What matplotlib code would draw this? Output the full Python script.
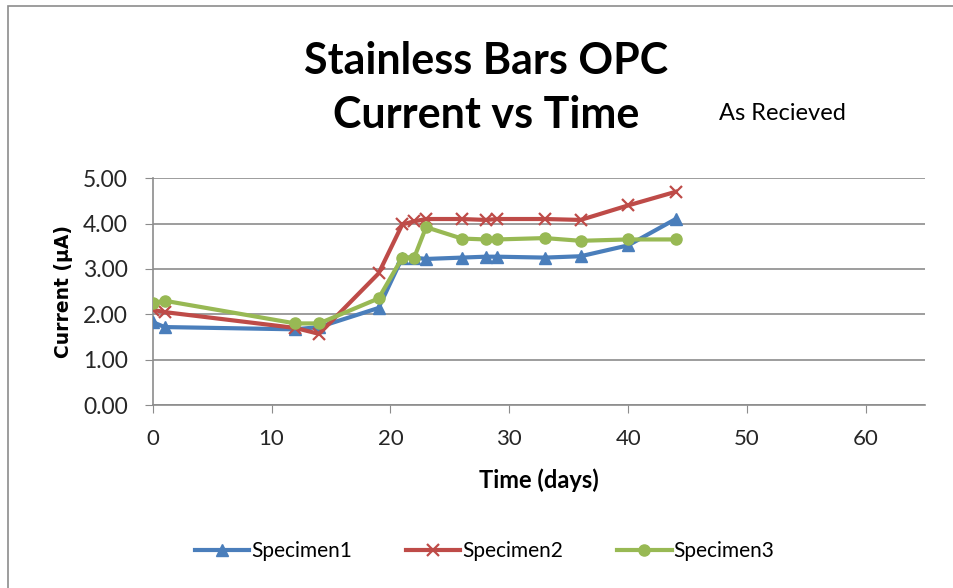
import matplotlib.pyplot as plt
from matplotlib.patches import Rectangle

# readings (days since casting, current in microamps)
days = [0, 1, 12, 14, 19, 21, 22, 23, 26, 28, 29, 33, 36, 40, 44]
spec1 = [1.83, 1.72, 1.67, 1.72, 2.14, 3.25, 3.25, 3.22, 3.25, 3.27, 3.27, 3.25, 3.28, 3.52, 4.10]
spec2 = [2.10, 2.05, 1.70, 1.57, 2.90, 3.98, 4.05, 4.10, 4.10, 4.08, 4.10, 4.10, 4.08, 4.40, 4.70]
spec3 = [2.25, 2.30, 1.80, 1.80, 2.35, 3.25, 3.25, 3.92, 3.67, 3.65, 3.65, 3.68, 3.62, 3.65, 3.65]

xticks = [0, 10, 20, 30, 40, 50, 60]
yticks = [0, 1, 2, 3, 4, 5]

plt.rcParams['font.family'] = ['Lato', 'DejaVu Sans']

fig = plt.figure(figsize=(9.54, 5.88), dpi=100)
fig.patches.append(Rectangle((0.008, -0.1), 1.1, 1.09, transform=fig.transFigure,
                             fill=False, edgecolor='#8c8c8c', linewidth=1.2))

ax = fig.add_axes([0.160, 0.311, 0.810, 0.386])

ax.plot(days, spec1, color='#4a7ebb', lw=3, marker='^', ms=8, label='Specimen1', zorder=3)
ax.plot(days, spec2, color='#be4b48', lw=3, marker='x', ms=8, mew=1.6, label='Specimen2', zorder=4)
ax.plot(days, spec3, color='#98b954', lw=3, marker='o', ms=8, label='Specimen3', zorder=5)

ax.set_xlim(0, 65)
ax.set_ylim(0, 5)
ax.set_xticks(xticks)
ax.set_yticks(yticks)
ax.set_yticklabels(['%.2f' % v for v in yticks])
ax.yaxis.grid(True, color='#8c8c8c', lw=1.2)
ax.set_axisbelow(True)
for s in ['top', 'right']:
    ax.spines[s].set_visible(False)
for s in ['left', 'bottom']:
    ax.spines[s].set_color('#8c8c8c')
    ax.spines[s].set_linewidth(1.2)
ax.tick_params(axis='x', length=6, color='#8c8c8c', labelsize=16, labelcolor='#262626', pad=11)
ax.tick_params(axis='y', length=6, color='#8c8c8c', labelsize=16.5, labelcolor='#262626', pad=12)

ax.set_xlabel('Time (days)', fontsize=17, fontweight='bold', labelpad=14)
ax.set_ylabel('Current (µA)', fontsize=13.5, fontweight='bold', labelpad=7,
              family='DejaVu Sans')

fig.text(0.51, 0.897, 'Stainless Bars OPC', ha='center', va='center', fontsize=31, fontweight='bold')
fig.text(0.51, 0.804, 'Current vs Time', ha='center', va='center', fontsize=31, fontweight='bold')
fig.text(0.82, 0.807, 'As Recieved', ha='center', va='center', fontsize=17)

fig.legend(loc='center', bbox_to_anchor=(0.508, 0.063), ncol=3, frameon=False,
           fontsize=15, handlelength=2.6, columnspacing=2.6, handletextpad=0.1)

plt.savefig('out.png', dpi=100)
